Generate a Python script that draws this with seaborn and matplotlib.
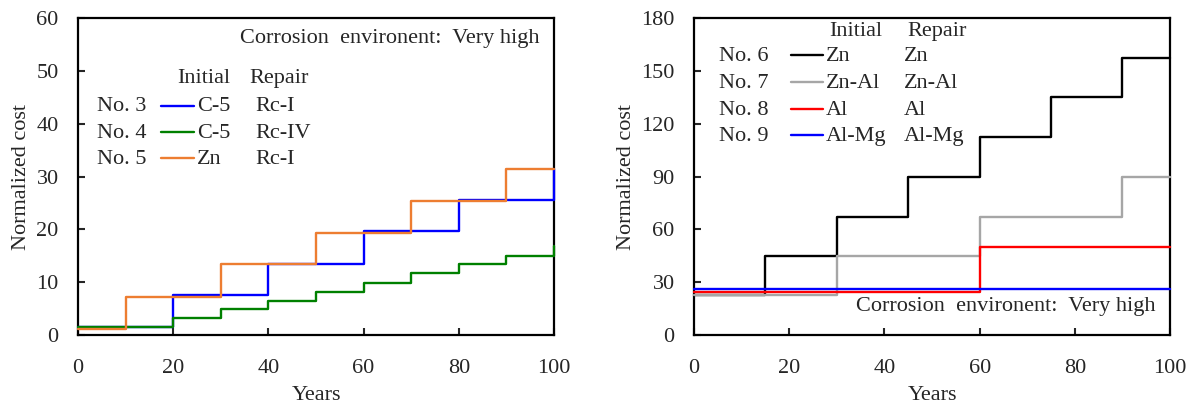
import numpy as np
import matplotlib
matplotlib.use("Agg")
import matplotlib.pyplot as plt
import pandas as pd
import seaborn as sb

# --- dane: panel lewy (No. 3-5) ---
years_no3 = [0, 20, 40, 60, 80, 100]
cost_no3 = [1.5, 7.5, 13.5, 19.6, 25.6, 31.4]
years_no4 = [0, 20, 30, 40, 50, 60, 70, 80, 90, 100]
cost_no4 = [1.6, 3.2, 4.9, 6.5, 8.2, 9.9, 11.7, 13.4, 15.0, 16.8]
years_no5 = [0, 10, 30, 50, 70, 90, 100]
cost_no5 = [1.2, 7.2, 13.4, 19.4, 25.3, 31.4, 31.4]

# --- dane: panel prawy (No. 6-9) ---
years_no6 = [0, 15, 30, 45, 60, 75, 90, 100]
cost_no6 = [22.6, 44.8, 67.2, 89.6, 112.3, 134.9, 157.3, 157.3]
years_no7 = [0, 30, 60, 90, 100]
cost_no7 = [22.6, 44.8, 67.2, 89.6, 89.6]
years_no8 = [0, 60, 100]
cost_no8 = [24.6, 50.2, 50.2]
years_no9 = [0, 100]
cost_no9 = [26.2, 26.2]

left_names = ["No. 3", "No. 4", "No. 5"]
left_initial = ["C-5", "C-5", "Zn"]
left_repair = ["Rc-I", "Rc-IV", "Rc-I"]
left_colors = ["#0000FF", "#008000", "#ED7D31"]

right_names = ["No. 6", "No. 7", "No. 8", "No. 9"]
right_initial = ["Zn", "Zn-Al", "Al", "Al-Mg"]
right_repair = ["Zn", "Zn-Al", "Al", "Al-Mg"]
right_colors = ["#000000", "#A6A6A6", "#FF0000", "#0000FF"]

env_text = "Corrosion  environent:  Very high"

sb.set_style("ticks")
plt.rcParams['font.family'] = ['Liberation Serif', 'DejaVu Serif']
FS = 16


def style_axes(ax, ymax, ystep):
    ax.set_xlim(0, 100)
    ax.set_ylim(0, ymax)
    ax.set_xticks(range(0, 101, 20))
    ax.set_yticks(range(0, ymax + 1, ystep))
    ax.tick_params(direction='in', length=5, width=1.5, labelsize=FS, pad=14)
    ax.tick_params(axis='x', pad=17)
    for s in ax.spines.values():
        s.set_visible(True)
        s.set_linewidth(1.6)
        s.set_color('black')
    ax.set_xlabel("Years", fontsize=FS, labelpad=6)
    ax.set_ylabel("Normalized cost", fontsize=FS, labelpad=4)


def step(ax, x, y, color):
    df = pd.DataFrame({'x': x, 'y': y})
    sb.lineplot(data=df, x='x', y='y', ax=ax, color=color, linewidth=1.7,
                drawstyle='steps-post', estimator=None, sort=False,
                clip_on=False, zorder=3)


fig = plt.figure(figsize=(11.95, 4.05), dpi=100)
ax1 = fig.add_axes([0.0653, 0.1728, 0.3983, 0.7827])
ax2 = fig.add_axes([0.5808, 0.1728, 0.3983, 0.7827])

# lewy
step(ax1, years_no3, cost_no3, left_colors[0])
step(ax1, years_no4, cost_no4, left_colors[1])
step(ax1, years_no5, cost_no5, left_colors[2])
style_axes(ax1, 60, 10)

ax1.text(0.97, 0.934, env_text, transform=ax1.transAxes, fontsize=FS,
         ha='right', va='center')
ax1.text(0.208, 0.81, "Initial", transform=ax1.transAxes, fontsize=FS, va='center')
ax1.text(0.361, 0.81, "Repair", transform=ax1.transAxes, fontsize=FS, va='center')
rows_y = [0.720, 0.636, 0.554]
for i in range(3):
    yy = rows_y[i]
    ax1.text(0.040, yy, left_names[i], transform=ax1.transAxes, fontsize=FS, va='center')
    ax1.plot([0.174, 0.244], [yy + 0.003, yy + 0.003], transform=ax1.transAxes,
             color=left_colors[i], lw=1.7)
    ax1.text(0.25, yy, left_initial[i], transform=ax1.transAxes, fontsize=FS, va='center')
    ax1.text(0.372, yy, left_repair[i], transform=ax1.transAxes, fontsize=FS, va='center')

# prawy
step(ax2, years_no6, cost_no6, right_colors[0])
step(ax2, years_no7, cost_no7, right_colors[1])
step(ax2, years_no8, cost_no8, right_colors[2])
step(ax2, years_no9, cost_no9, right_colors[3])
style_axes(ax2, 180, 30)

ax2.text(0.97, 0.0915, env_text, transform=ax2.transAxes, fontsize=FS,
         ha='right', va='center')
ax2.text(0.284, 0.957, "Initial", transform=ax2.transAxes, fontsize=FS, va='center')
ax2.text(0.448, 0.957, "Repair", transform=ax2.transAxes, fontsize=FS, va='center')
rows_y2 = [0.878, 0.794, 0.708, 0.626]
for i in range(4):
    yy = rows_y2[i]
    ax2.text(0.053, yy, right_names[i], transform=ax2.transAxes, fontsize=FS, va='center')
    ax2.plot([0.204, 0.271], [yy + 0.004, yy + 0.004], transform=ax2.transAxes,
             color=right_colors[i], lw=1.7)
    ax2.text(0.277, yy, right_initial[i], transform=ax2.transAxes, fontsize=FS, va='center')
    ax2.text(0.441, yy, right_repair[i], transform=ax2.transAxes, fontsize=FS, va='center')

fig.savefig("out.png", dpi=100)
